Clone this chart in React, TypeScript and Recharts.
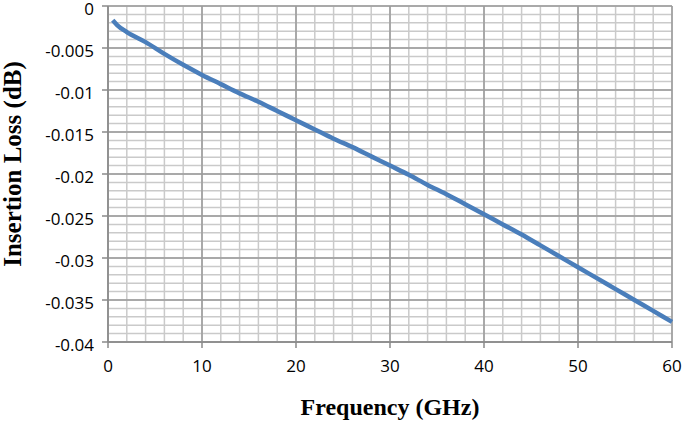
import { LineChart, Line, XAxis, YAxis, CartesianGrid } from 'recharts';

// frequency (GHz) and insertion loss (dB)
const freq = [0.5, 1, 2, 4, 6, 8, 10, 12, 14, 16, 18, 20, 22, 24, 26, 28, 30, 32, 34, 36, 38, 40, 42, 44, 46, 48, 50, 52, 54, 56, 58, 60];
const loss = [
  -0.0017, -0.0023, -0.0031, -0.0043, -0.0057, -0.0070, -0.0082, -0.0093, -0.0104, -0.0114, -0.0125,
  -0.0136, -0.0147, -0.0158, -0.0168, -0.0179, -0.0190, -0.0201, -0.0213, -0.0224, -0.0236, -0.0248,
  -0.0260, -0.0272, -0.0285, -0.0298, -0.0311, -0.0324, -0.0337, -0.0350, -0.0363, -0.0376,
];

const xTicks = [0, 10, 20, 30, 40, 50, 60];
const yTicks = [0, -0.005, -0.01, -0.015, -0.02, -0.025, -0.03, -0.035, -0.04];
const xMinor = [0, 2, 4, 6, 8, 10, 12, 14, 16, 18, 20, 22, 24, 26, 28, 30, 32, 34, 36, 38, 40, 42, 44, 46, 48, 50, 52, 54, 56, 58, 60];
const yMinor = [
  0, -0.001, -0.002, -0.003, -0.004, -0.005, -0.006, -0.007, -0.008, -0.009, -0.01,
  -0.011, -0.012, -0.013, -0.014, -0.015, -0.016, -0.017, -0.018, -0.019, -0.02,
  -0.021, -0.022, -0.023, -0.024, -0.025, -0.026, -0.027, -0.028, -0.029, -0.03,
  -0.031, -0.032, -0.033, -0.034, -0.035, -0.036, -0.037, -0.038, -0.039, -0.04,
];

const data = freq.map((f, i) => ({ f, loss: loss[i] }));

const tickStyle = { fontSize: 17, fill: '#000', fontFamily: 'Open Sans, sans-serif' };
const titleFont = { fontWeight: 700, fill: '#000', fontFamily: 'Liberation Serif, serif' };

// y tick labels sit a touch below their gridline in the original
const YTick = ({ x, y, payload }: any) => (
  <text x={x} y={y + 2} textAnchor="end" dominantBaseline="central" {...tickStyle}>
    {String(payload.value)}
  </text>
);

// rotated y title, sits a bit above the plot's centre like the original
const YTitle = () => (
  <text
    x={12}
    y={164}
    transform="rotate(-90 12 164)"
    textAnchor="middle"
    dominantBaseline="central"
    fontSize={25}
    {...titleFont}
  >
    Insertion Loss (dB)
  </text>
);

export default function App() {
  return (
    <div style={{ position: 'fixed', top: 0, left: 0, width: 685, height: 421, background: '#fff' }}>
      <LineChart width={685} height={421} data={data} margin={{ top: 6, right: 13, left: 12, bottom: 1 }}>
        <CartesianGrid
          stroke="#cacaca"
          strokeWidth={1.5}
          horizontalValues={yMinor}
          verticalValues={xMinor}
        />
        <CartesianGrid
          stroke="#9a9a9a"
          strokeWidth={1.5}
          horizontalValues={yTicks}
          verticalValues={xTicks}
        />
        <XAxis
          dataKey="f"
          type="number"
          domain={[0, 60]}
          ticks={xTicks}
          interval={0}
          tick={tickStyle}
          stroke="#8a8a8a"
          strokeWidth={1.5}
          tickSize={6}
          tickMargin={12}
          height={78}
          label={{ value: 'Frequency (GHz)', position: 'insideBottom', offset: 5, style: { ...titleFont, fontSize: 24 } }}
        />
        <YAxis
          type="number"
          domain={[-0.04, 0]}
          ticks={yTicks}
          interval={0}
          tick={<YTick />}
          stroke="#8a8a8a"
          strokeWidth={1.5}
          tickSize={6}
          tickMargin={8}
          width={96}
          label={<YTitle />}
        />
        <Line
          type="monotone"
          dataKey="loss"
          stroke="#4a7ebb"
          strokeWidth={4.5}
          dot={false}
          isAnimationActive={false}
        />
      </LineChart>
    </div>
  );
}
